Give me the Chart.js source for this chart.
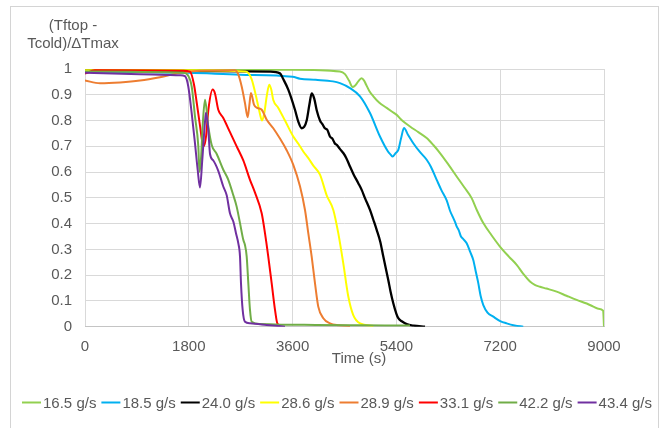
<!DOCTYPE html>
<html><head><meta charset="utf-8">
<script src="https://cdn.jsdelivr.net/npm/chart.js@4.4.1/dist/chart.umd.min.js"></script>
<style>
html,body{margin:0;padding:0;background:#fff;}
#wrap{position:relative;width:668px;height:428px;overflow:hidden;background:#fff;}
#frame{position:absolute;left:10px;top:6px;width:647px;height:440px;border:1px solid #d4d4d4;}
canvas{position:absolute;left:0;top:0;}
</style></head><body>
<div id="wrap"><div id="frame"></div><canvas id="c" width="668" height="428"></canvas></div>
<script>
// ---- data (time in s, normalized temperature) ----
const seriesNames = ['16.5 g/s','18.5 g/s','24.0 g/s','28.6 g/s','28.9 g/s','33.1 g/s','42.2 g/s','43.4 g/s'];
const seriesColors = ['#92D050','#00B0F0','#000000','#FFFF00','#ED7D31','#FF0000','#70AD47','#7030A0'];

const t165 = [0,1800,3600,4420,4508,4578,4642,4680,4717,4760,4797,4840,4873,4930,5000,5100,5231,5320,5405,5500,5636,5780,5925,6040,6156,6300,6445,6580,6705,6800,6907,7050,7196,7350,7486,7600,7716,7800,7890,8000,8179,8350,8526,8700,8815,8900,8985,9000];
const v165 = [0.995,0.997,0.997,0.99,0.98,0.955,0.93,0.935,0.945,0.958,0.964,0.955,0.94,0.915,0.894,0.87,0.849,0.835,0.822,0.80,0.777,0.755,0.732,0.705,0.674,0.63,0.583,0.54,0.499,0.45,0.402,0.355,0.311,0.272,0.240,0.205,0.175,0.162,0.155,0.148,0.136,0.12,0.104,0.09,0.078,0.07,0.062,0.0];

const t185 = [0,900,1800,2688,3600,3728,4000,4300,4421,4595,4769,4942,5115,5254,5300,5335,5380,5433,5480,5532,5600,5693,5800,5925,6000,6099,6180,6272,6330,6380,6420,6445,6480,6520,6560,6619,6680,6733,6780,6820,6860,6907,6980,7080,7200,7312,7450,7600];
const v185 = [0.99,0.988,0.985,0.978,0.97,0.962,0.958,0.952,0.945,0.926,0.894,0.829,0.738,0.68,0.668,0.66,0.672,0.686,0.73,0.771,0.745,0.712,0.68,0.648,0.62,0.57,0.53,0.49,0.45,0.425,0.405,0.389,0.375,0.35,0.34,0.324,0.29,0.259,0.21,0.169,0.12,0.084,0.055,0.039,0.022,0.013,0.005,0.0];

const t240 = [0,1800,3208,3381,3440,3525,3641,3700,3758,3800,3844,3890,3931,3975,4018,4075,4120,4160,4200,4248,4290,4330,4365,4420,4479,4530,4595,4660,4739,4800,4855,4942,5000,5058,5120,5173,5259,5300,5346,5400,5433,5500,5578,5700,5896];
const v240 = [0.995,0.993,0.99,0.983,0.96,0.92,0.842,0.795,0.77,0.775,0.80,0.86,0.905,0.885,0.84,0.80,0.785,0.77,0.765,0.738,0.73,0.712,0.706,0.69,0.674,0.655,0.622,0.59,0.557,0.53,0.499,0.453,0.415,0.376,0.33,0.272,0.181,0.135,0.091,0.05,0.033,0.02,0.01,0.004,0.0];

const t286 = [0,1800,2774,2830,2891,2960,3020,3070,3110,3151,3196,3230,3265,3352,3468,3612,3700,3785,3870,3959,4075,4191,4306,4392,4479,4566,4652,4769,5000];
const v286 = [0.995,0.995,0.99,0.985,0.96,0.9,0.84,0.80,0.83,0.894,0.939,0.92,0.88,0.849,0.80,0.738,0.71,0.68,0.655,0.625,0.59,0.51,0.453,0.363,0.246,0.117,0.045,0.013,0.003];

const t289 = [0,260,607,954,1300,1647,1994,2601,2658,2717,2774,2821,2850,2878,2930,2988,3064,3151,3265,3381,3497,3612,3728,3815,3872,3931,3988,4045,4132,4248,4400,4595];
const v289 = [0.955,0.945,0.948,0.955,0.968,0.985,0.993,0.995,0.979,0.932,0.868,0.813,0.86,0.907,0.862,0.849,0.842,0.803,0.77,0.73,0.685,0.628,0.545,0.453,0.363,0.272,0.169,0.078,0.033,0.013,0.006,0.003];

const t331 = [0,173,1704,1820,1890,1937,1994,2040,2063,2100,2140,2214,2254,2311,2398,2514,2630,2745,2861,2948,3064,3121,3178,3237,3295,3335,3381];
const v331 = [0.982,0.995,0.993,0.99,0.94,0.87,0.78,0.71,0.70,0.74,0.842,0.92,0.905,0.842,0.81,0.755,0.70,0.645,0.57,0.52,0.44,0.363,0.272,0.169,0.065,0.013,0.005];

const t422 = [0,1704,1786,1850,1907,1965,1985,2011,2046,2081,2138,2197,2284,2398,2485,2572,2630,2688,2745,2774,2804,2832,2861,2891,3035,3400,4000,4600,5200,5636];
const v422 = [0.99,0.985,0.975,0.932,0.816,0.70,0.60,0.65,0.80,0.881,0.777,0.705,0.67,0.609,0.57,0.51,0.466,0.402,0.337,0.317,0.272,0.169,0.065,0.019,0.01,0.008,0.007,0.006,0.005,0.005];

const t434 = [0,954,1647,1734,1791,1850,1907,1954,1994,2034,2081,2098,2138,2168,2225,2311,2398,2457,2514,2572,2618,2658,2688,2705,2734,2774,2861,3150,3468];
const v434 = [0.985,0.98,0.976,0.972,0.932,0.829,0.712,0.609,0.54,0.648,0.796,0.83,0.764,0.67,0.645,0.605,0.544,0.51,0.44,0.408,0.363,0.324,0.272,0.169,0.065,0.019,0.013,0.007,0.0];

const seriesTimes = [t165,t185,t240,t286,t289,t331,t422,t434];
const seriesValues = [v165,v185,v240,v286,v289,v331,v422,v434];

const xTicks = [0,1800,3600,5400,7200,9000];
const xTickLabels = ['0','1800','3600','5400','7200','9000'];
const yTicks = [0,0.1,0.2,0.3,0.4,0.5,0.6,0.7,0.8,0.9,1];
const yTickLabels = ['0','0.1','0.2','0.3','0.4','0.5','0.6','0.7','0.8','0.9','1'];
const yTitleLines = ['(Tftop -','Tcold)/\u0394Tmax'];
const xTitle = 'Time (s)';

// ---- chart ----
const FONT = '"Liberation Sans", Arial, sans-serif';
Chart.defaults.font.family = FONT;
Chart.defaults.font.size = 15;
Chart.defaults.color = '#595959';

const datasets = seriesNames.map((name,i)=>({
  label: name,
  data: seriesTimes[i].map((t,k)=>({x:t,y:seriesValues[i][k]})),
  borderColor: seriesColors[i],
  backgroundColor: seriesColors[i],
  borderWidth: i === 2 ? 2.3 : 2,
  pointRadius: 0,
  cubicInterpolationMode: 'monotone',
  fill: false,
  order: seriesNames.length - i
}));

const textPlugin = {
  id: 'texts',
  afterDraw(chart){
    const ctx = chart.ctx;
    ctx.save();
    ctx.fillStyle = '#595959';
    ctx.font = '15px ' + FONT;
    ctx.textBaseline = 'alphabetic';
    ctx.textAlign = 'center';
    ctx.fillText(yTitleLines[0], 73, 30);
    ctx.fillText(yTitleLines[1], 73, 47.5);
    ctx.fillText(xTitle, 359, 363);
    // legend
    const lineLen = 19, gapText = 2, gapItem = 5;
    const widths = seriesNames.map(n => ctx.measureText(n).width);
    const total = widths.reduce((a,w)=>a+lineLen+gapText+w,0) + gapItem*(seriesNames.length-1);
    let x = 337 - total/2;
    ctx.textAlign = 'left';
    seriesNames.forEach((n,i)=>{
      ctx.strokeStyle = seriesColors[i];
      ctx.lineWidth = 2;
      ctx.beginPath(); ctx.moveTo(x,402.5); ctx.lineTo(x+lineLen,402.5); ctx.stroke();
      x += lineLen + gapText;
      ctx.fillText(n, x, 407.7);
      x += widths[i] + gapItem;
    });
    ctx.restore();
  }
};

new Chart(document.getElementById('c'), {
  type: 'line',
  data: { datasets },
  options: {
    responsive: false,
    animation: false,
    events: [],
    layout: { padding: { left: 0, right: 64, top: 69, bottom: 61.3 } },
    plugins: { legend: { display: false }, tooltip: { enabled: false }, title: { display: false } },
    scales: {
      x: {
        type: 'linear', min: 0, max: 9000,
        afterBuildTicks: s => { s.ticks = xTicks.map(v => ({ value: v })); },
        afterFit: s => { s.height = 40; },
        ticks: { padding: 11, maxRotation: 0, autoSkip: false, color: '#595959',
                 callback: (v, i) => xTickLabels[i] },
        grid: { color: '#d9d9d9', drawTicks: false },
        border: { display: true, color: '#c4c4c4' }
      },
      y: {
        type: 'linear', min: 0, max: 1,
        afterBuildTicks: s => { s.ticks = yTicks.map(v => ({ value: v })); },
        afterFit: s => { s.width = 85; },
        ticks: { padding: 13, color: '#595959', callback: (v, i) => yTickLabels[i] },
        grid: { color: '#d9d9d9', drawTicks: false },
        border: { display: false }
      }
    }
  },
  plugins: [textPlugin]
});
</script>
</body></html>
